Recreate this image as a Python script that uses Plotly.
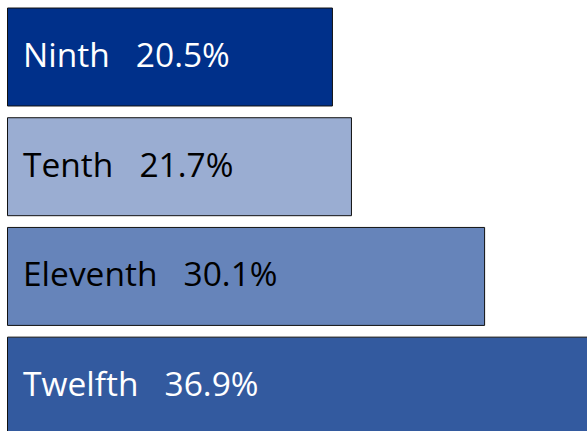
import plotly.graph_objects as go

grades = ["Ninth", "Tenth", "Eleventh", "Twelfth"]
shares = [20.5, 21.7, 30.1, 36.9]
bar_colors = ["#00308A", "#9AADD2", "#6684BA", "#335A9F"]
text_colors = ["white", "black", "black", "white"]

fig = go.Figure()
fig.add_trace(go.Bar(
    y=list(range(len(grades))),
    x=shares,
    base=0,
    orientation="h",
    width=0.893,
    marker=dict(color=bar_colors, line=dict(color="#111111", width=1)),
    hoverinfo="skip",
))

for i, (g, v) in enumerate(zip(grades, shares)):
    fig.add_annotation(
        x=0, y=i, xref="x", yref="y",
        text=f"{g}\u00a0\u00a0\u00a0{v:.1f}%",
        showarrow=False, xanchor="left", yanchor="middle",
        xshift=13, yshift=3,
        font=dict(family="Open Sans", size=33.5, color=text_colors[i]),
    )

fig.update_layout(
    width=587, height=431,
    margin=dict(l=0, r=0, t=0, b=0),
    paper_bgcolor="white", plot_bgcolor="white",
    showlegend=False,
    xaxis=dict(range=[-0.473, 36.56], visible=False, showgrid=False, zeroline=False, fixedrange=True),
    yaxis=dict(range=[3.409, -0.5196], visible=False, showgrid=False, zeroline=False, fixedrange=True),
)
fig.write_html(
    "out.html",
    config={"displayModeBar": False, "staticPlot": True},
    post_script="document.body.style.margin='0px';document.body.style.overflow='hidden';",
)
